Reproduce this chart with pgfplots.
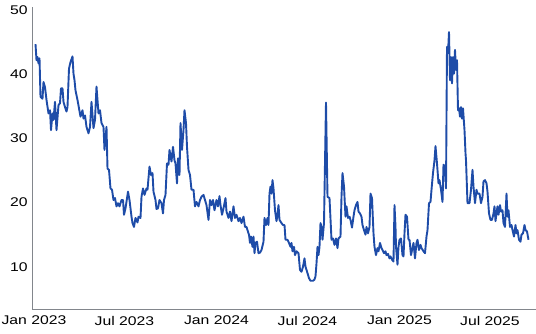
\documentclass[border=0pt]{standalone}
\usepackage{fontspec}
\setmainfont{Liberation Sans}[FakeStretch=1.25]
\usepackage{pgfplots}
\pgfplotsset{compat=1.18}
\definecolor{lineblue}{RGB}{30,76,168}
\definecolor{axgrey}{RGB}{130,134,140}
\begin{document}
\fontsize{12.6bp}{15bp}\selectfont
\begin{tikzpicture}
\path[use as bounding box] (-32bp,-25bp) rectangle (504bp,309bp);
\begin{axis}[
  scale only axis,
  width=504bp, height=302bp,
  xmin=-4, xmax=1004,
  ymin=3.4, ymax=50.5,
  axis x line=bottom, axis y line=left,
  axis line style={-, draw=axgrey, line width=0.8bp},
  major tick length=0pt,
  xtick={0,181,365,547,731,912},
  xticklabels={Jan 2023,Jul 2023,Jan 2024,Jul 2024,Jan 2025,Jul 2025},
  ytick={10,20,30,40,50},
  /pgf/number format/assume math mode=true,
  tick label style={font=\fontsize{12.6bp}{15bp}\selectfont, text=black},
  xticklabel style={yshift=-2.5bp},
  clip=false,
]
\addplot[color=lineblue, line width=1.9bp, line join=round] coordinates {
(3,44.7)(5,42.2)(7,42.7)(9,41.7)(11,42.5)(13,36.5)(17,36.2)(19,38.8)(22,38.0)(25,36.0)
(29,33.9)(32,34.4)(34,31.3)(37,33.9)(39,32.9)(42,35.7)(45,31.3)(49,35.2)(52,35.5)(54,37.8)
(57,37.8)(59,35.7)(62,34.9)(65,34.2)(67,34.9)(70,40.9)(73,41.9)(77,42.8)(79,40.1)(81,39.1)
(83,37.5)(87,36.0)(90,34.7)(93,33.4)(97,34.4)(99,33.1)(102,33.6)(105,31.8)(109,30.8)(112,31.8)
(115,35.7)(119,31.6)(122,32.9)(125,38.1)(129,33.9)(132,34.4)(135,32.4)(139,31.8)(141,28.2)(145,31.8)
(147,25.3)(150,25.1)(153,22.2)(156,22.0)(159,20.4)(162,20.7)(165,19.4)(168,19.9)(171,19.4)(175,20.4)
(178,20.4)(180,18.1)(183,19.1)(188,21.7)(191,20.4)(195,17.8)(197,16.8)(200,16.2)(203,17.6)(207,16.9)
(209,17.8)(213,17.6)(215,20.9)(218,22.2)(221,21.2)(225,22.2)(227,22.0)(231,25.6)(234,24.3)(237,24.6)
(239,21.7)(243,20.4)(245,19.0)(248,19.1)(251,20.4)(255,19.9)(258,18.3)(260,20.4)(263,21.2)(266,26.1)
(269,25.9)(271,28.2)(275,26.4)(278,28.7)(281,26.6)(283,26.1)(286,23.0)(288,26.9)(291,24.3)(293,32.4)
(296,28.2)(299,31.3)(301,34.4)(304,32.4)(306,28.7)(309,25.1)(312,24.3)(315,22.0)(319,22.0)(322,19.4)
(325,20.1)(329,19.4)(332,20.4)(335,20.9)(339,21.2)(342,20.4)(345,19.6)(349,17.3)(352,20.4)(355,19.6)
(358,20.4)(361,18.8)(365,20.4)(368,19.4)(371,21.0)(373,19.6)(376,18.1)(379,19.1)(383,20.7)(385,18.6)
(389,17.6)(392,18.6)(395,17.1)(399,19.4)(402,17.6)(405,18.1)(409,17.1)(412,17.6)(415,16.8)(419,17.8)
(422,16.2)(425,16.2)(429,15.2)(430,15.0)(432,13.7)(434,14.7)(437,13.1)(439,14.7)(441,12.1)(443,13.7)
(446,13.9)(449,12.1)(452,12.2)(455,12.6)(459,13.9)(461,17.6)(464,16.5)(467,17.6)(469,16.5)(471,21.4)
(473,22.5)(475,21.4)(477,23.5)(479,22.2)(482,18.8)(485,17.1)(487,18.1)(489,19.6)(491,17.3)(495,16.8)
(498,16.5)(501,16.5)(503,14.2)(507,14.2)(510,13.7)(513,13.1)(515,13.7)(517,12.4)(520,13.1)(522,11.8)
(525,12.4)(529,12.1)(532,9.5)(535,9.2)(538,10.0)(541,11.3)(543,10.0)(547,9.0)(550,8.2)(553,7.8)
(558,7.8)(561,8.0)(563,8.5)(565,10.5)(567,13.1)(569,11.8)(571,13.1)(573,16.8)(575,16.2)(577,14.2)
(580,16.8)(584,35.6)(587,20.9)(591,20.7)(595,14.2)(598,14.4)(601,13.4)(604,14.4)(607,12.9)(609,14.4)
(613,14.7)(615,20.9)(617,24.6)(620,22.5)(623,17.8)(625,19.4)(628,17.6)(631,17.8)(633,17.3)(636,16.1)
(639,17.8)(641,18.8)(644,19.6)(647,20.1)(649,18.6)(652,18.3)(655,17.8)(657,16.5)(660,15.7)(663,15.0)
(665,16.2)(668,15.2)(671,16.2)(673,21.4)(676,20.7)(679,15.2)(681,13.1)(684,11.8)(687,12.9)(689,12.4)
(692,13.7)(695,12.9)(697,12.6)(700,12.1)(703,12.4)(705,11.8)(708,12.0)(711,11.3)(713,11.6)(716,11.1)
(719,10.8)(721,19.6)(723,16.2)(724,13.1)(727,10.3)(729,13.1)(731,14.2)(734,14.4)(737,11.8)(739,11.6)
(741,15.2)(743,18.1)(746,17.8)(749,14.2)(751,14.2)(754,11.8)(757,12.9)(759,13.7)(762,11.3)(765,13.7)
(767,14.2)(770,12.6)(773,13.4)(775,12.9)(779,12.4)(782,12.1)(785,14.7)(787,15.7)(790,19.9)(793,20.1)
(795,22.0)(798,24.6)(801,26.6)(803,28.8)(806,26.1)(809,23.0)(811,23.5)(814,22.0)(817,20.1)(819,25.9)
(822,25.6)(824,22.2)(826,44.3)(828,43.3)(830,46.6)(832,39.1)(834,42.7)(836,38.6)(838,42.7)(840,40.1)
(842,43.8)(844,40.7)(846,42.2)(848,34.4)(850,34.7)(852,33.4)(854,34.9)(856,33.1)(858,34.7)(861,31.3)
(863,27.7)(864,26.6)(867,19.9)(871,19.9)(874,22.0)(877,25.1)(879,22.5)(882,19.9)(885,22.0)(887,21.4)
(891,21.4)(894,19.9)(897,20.9)(899,23.3)(902,23.5)(905,23.0)(907,21.7)(910,18.3)(913,17.3)(916,17.3)
(919,18.3)(921,19.4)(923,17.1)(925,18.3)(927,19.4)(929,18.1)(932,19.6)(934,18.6)(937,18.8)(939,16.8)
(942,16.2)(945,21.4)(947,17.8)(949,18.8)(952,16.2)(955,16.5)(957,15.7)(960,14.7)(963,16.5)(965,15.2)
(967,15.7)(970,14.2)(973,13.9)(975,15.0)(978,15.2)(981,16.5)(983,15.7)(986,15.5)(989,14.2)
};
\end{axis}
\end{tikzpicture}
\end{document}
